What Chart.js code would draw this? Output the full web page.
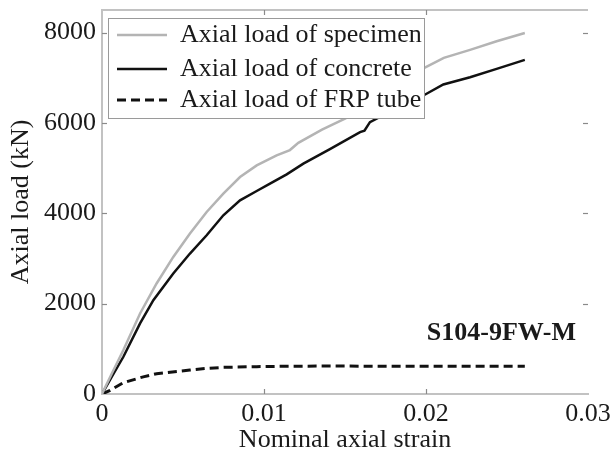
<!DOCTYPE html>
<html><head><meta charset="utf-8">
<script src="https://cdn.jsdelivr.net/npm/chart.js@4/dist/chart.umd.min.js"></script>
<style>html,body{margin:0;padding:0;background:#fff}#wrap{width:614px;height:458px}</style>
</head><body><div id="wrap"><canvas id="c" width="614" height="458"></canvas></div>
<script>
const SERIES_NAMES = ['Axial load of specimen', 'Axial load of concrete', 'Axial load of FRP tube'];

const SPECIMEN_STRAIN = [0, 0.0006, 0.00132, 0.00235, 0.00337, 0.0044, 0.00543, 0.00646, 0.00749, 0.00852, 0.00955, 0.01078, 0.0116, 0.01212, 0.01358, 0.01503, 0.0175, 0.0199, 0.0211, 0.02272, 0.02436, 0.0261];
const SPECIMEN_LOAD   = [0, 450, 972, 1783, 2446, 3034, 3551, 4029, 4435, 4802, 5061, 5282, 5400, 5560, 5850, 6100, 6660, 7220, 7440, 7618, 7808, 7990];

const CONCRETE_STRAIN = [0, 0.0006, 0.00132, 0.00235, 0.00317, 0.0044, 0.00543, 0.00646, 0.00749, 0.00852, 0.00955, 0.01037, 0.0114, 0.01243, 0.01407, 0.01593, 0.0162, 0.01654, 0.01819, 0.01984, 0.02107, 0.02272, 0.02436, 0.0261];
const CONCRETE_LOAD   = [0, 380, 824, 1562, 2077, 2667, 3109, 3514, 3956, 4287, 4493, 4656, 4862, 5098, 5420, 5798, 5830, 6019, 6330, 6608, 6851, 7013, 7198, 7397];

const FRP_STRAIN = [0, 0.0005, 0.00132, 0.00255, 0.00337, 0.00543, 0.00646, 0.00749, 0.00955, 0.0116, 0.0138, 0.02, 0.0261];
const FRP_LOAD   = [0, 80, 250, 380, 450, 530, 567, 590, 605, 615, 618, 615, 612];

const X_TICKS = [0, 0.01, 0.02, 0.03];
const X_TICK_LABELS = ['0', '0.01', '0.02', '0.03'];
const Y_TICKS = [0, 2000, 4000, 6000, 8000];
const Y_TICK_LABELS = ['0', '2000', '4000', '6000', '8000'];
const X_TITLE = 'Nominal axial strain';
const Y_TITLE = 'Axial load (kN)';
const ANNOTATION = 'S104-9FW-M';

const FONT = "'Liberation Serif', 'Times New Roman', serif";
const TEXT = '#1a1a1a';
const AXIS = '#c2c2c2';

function pts(xs, ys) { return xs.map((x, i) => ({x: x, y: ys[i]})); }

const framePlugin = {
  id: 'frame',
  afterDatasetsDraw(chart) {
    const ctx = chart.ctx, a = chart.chartArea;
    const xs = chart.scales.x, ys = chart.scales.y;
    ctx.save();
    // top border
    ctx.strokeStyle = AXIS; ctx.lineWidth = 2;
    ctx.beginPath(); ctx.moveTo(a.left, a.top); ctx.lineTo(a.right, a.top); ctx.stroke();
    // inside ticks
    ctx.strokeStyle = '#8a8a8a'; ctx.lineWidth = 1.2;
    const L = 5;
    X_TICKS.forEach(v => {
      const px = Math.round(xs.getPixelForValue(v)) + 0.5;
      if (v === X_TICKS[0] || v === X_TICKS[X_TICKS.length-1]) return;
      ctx.beginPath(); ctx.moveTo(px, a.bottom); ctx.lineTo(px, a.bottom - L); ctx.stroke();
      ctx.beginPath(); ctx.moveTo(px, a.top); ctx.lineTo(px, a.top + L); ctx.stroke();
    });
    Y_TICKS.forEach(v => {
      if (v === 0) return;
      const py = Math.round(ys.getPixelForValue(v)) + 0.5;
      ctx.beginPath(); ctx.moveTo(a.left, py); ctx.lineTo(a.left + L, py); ctx.stroke();
      ctx.beginPath(); ctx.moveTo(a.right - L, py); ctx.lineTo(a.right, py); ctx.stroke();
    });
    // legend box
    const bx = 108.5, by = 18.5, bw = 316, bh = 100;
    ctx.fillStyle = '#fff'; ctx.fillRect(bx, by, bw, bh);
    ctx.strokeStyle = '#9a9a9a'; ctx.lineWidth = 1; ctx.strokeRect(bx, by, bw, bh);
    const rows = [35, 69, 100];
    chart.data.datasets.forEach((ds, i) => {
      const y = rows[i];
      ctx.save();
      ctx.strokeStyle = ds.borderColor; ctx.lineWidth = ds.borderWidth;
      ctx.setLineDash(ds.borderDash || []);
      ctx.beginPath(); ctx.moveTo(117, y); ctx.lineTo(167, y); ctx.stroke();
      ctx.restore();
      ctx.fillStyle = TEXT; ctx.font = '26px ' + FONT;
      ctx.textAlign = 'left'; ctx.textBaseline = 'middle';
      ctx.fillText(ds.label, 180, y);
    });
    // annotation
    ctx.fillStyle = TEXT; ctx.font = 'bold 26px ' + FONT;
    ctx.textAlign = 'right'; ctx.textBaseline = 'middle';
    ctx.fillText(ANNOTATION, 576, 333);
    ctx.restore();
  }
};

new Chart(document.getElementById('c'), {
  type: 'line',
  data: {
    datasets: [
      { label: SERIES_NAMES[0], data: pts(SPECIMEN_STRAIN, SPECIMEN_LOAD), borderColor: '#b4b4b4', borderWidth: 2.5, pointRadius: 0, tension: 0 },
      { label: SERIES_NAMES[1], data: pts(CONCRETE_STRAIN, CONCRETE_LOAD), borderColor: '#111111', borderWidth: 2.5, pointRadius: 0, tension: 0 },
      { label: SERIES_NAMES[2], data: pts(FRP_STRAIN, FRP_LOAD), borderColor: '#111111', borderWidth: 3, borderDash: [9, 5], pointRadius: 0, tension: 0 }
    ]
  },
  options: {
    responsive: false,
    animation: false,
    devicePixelRatio: 1,
    layout: { padding: { top: 10, right: 26, left: 0, bottom: 0 } },
    plugins: { legend: { display: false }, tooltip: { enabled: false } },
    scales: {
      x: {
        type: 'linear', min: 0, max: 0.03,
        grid: { display: false, drawTicks: false },
        border: { display: true, color: AXIS, width: 2 },
        afterBuildTicks: s => { s.ticks = X_TICKS.map(v => ({ value: v })); },
        afterFit: s => { s.height = 64; s.paddingLeft = 0; s.paddingRight = 0; },
        ticks: { padding: 5, color: TEXT, font: { family: FONT, size: 26 }, maxRotation: 0,
          callback: (v, i) => X_TICK_LABELS[i] },
        title: { display: true, text: X_TITLE, color: TEXT, font: { family: FONT, size: 26 }, padding: { top: 0, bottom: 2 } }
      },
      y: {
        type: 'linear', min: 0, max: 8500,
        grid: { display: false, drawTicks: false },
        border: { display: true, color: AXIS, width: 2 },
        afterBuildTicks: s => { s.ticks = Y_TICKS.map(v => ({ value: v })); },
        afterFit: s => { s.width = 102; s.paddingTop = 0; s.paddingBottom = 0; },
        ticks: { padding: 6, color: TEXT, font: { family: FONT, size: 26 },
          callback: (v, i) => Y_TICK_LABELS[i] },
        title: { display: true, text: Y_TITLE, color: TEXT, font: { family: FONT, size: 26 }, padding: { top: 6, bottom: 0 } }
      }
    }
  },
  plugins: [framePlugin]
});
</script></body></html>
